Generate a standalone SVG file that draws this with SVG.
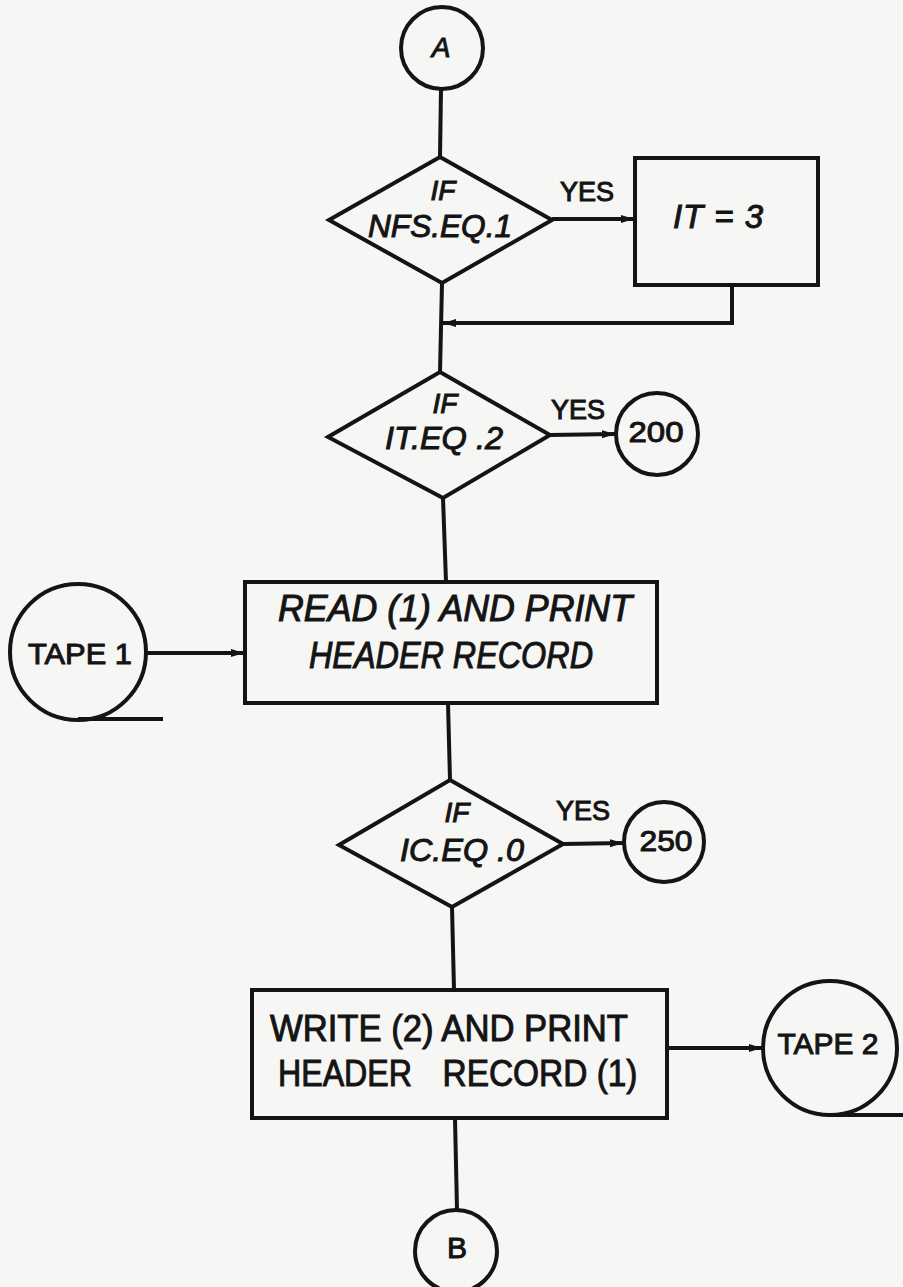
<svg xmlns="http://www.w3.org/2000/svg" width="903" height="1287" viewBox="0 0 903 1287">
<defs>
<style>
.sh{fill:none;stroke:#141414;stroke-width:4;stroke-linejoin:miter}
.ln{fill:none;stroke:#141414;stroke-width:4}
.t{font-family:"Liberation Sans",Arial,sans-serif;fill:#141414;stroke:#141414;stroke-width:1;text-anchor:middle}
.it{font-style:italic}
</style>
<marker id="ah" markerUnits="userSpaceOnUse" markerWidth="14" markerHeight="10" refX="13" refY="5" orient="auto">
<path d="M0,1 L13,5 L0,9 z" fill="#141414"/>
</marker>
</defs>
<rect width="903" height="1287" fill="#f6f6f4"/>
<g id="connectors">
<line class="ln" x1="441" y1="89" x2="440" y2="157"/>
<line class="ln" x1="552" y1="219" x2="634" y2="219" marker-end="url(#ah)"/>
<polyline class="ln" points="732,285 732,323 443,323" marker-end="url(#ah)"/>
<line class="ln" x1="442" y1="283" x2="440" y2="372"/>
<line class="ln" x1="550" y1="435" x2="615" y2="434" marker-end="url(#ah)"/>
<line class="ln" x1="443" y1="498" x2="446" y2="582"/>
<line class="ln" x1="146" y1="653" x2="244" y2="653" marker-end="url(#ah)"/>
<line class="ln" x1="448" y1="703" x2="450" y2="780"/>
<line class="ln" x1="563" y1="844" x2="623" y2="843" marker-end="url(#ah)"/>
<line class="ln" x1="452" y1="907" x2="454" y2="990"/>
<line class="ln" x1="667" y1="1048" x2="762" y2="1048" marker-end="url(#ah)"/>
<line class="ln" x1="455" y1="1118" x2="457" y2="1210"/>
</g>
<g id="nodeA">
<circle class="sh" cx="442" cy="48" r="41"/>
<text class="t it" x="441" y="57" font-size="28">A</text>
</g>
<g id="decision1">
<polygon class="sh" points="440,157 552,220 442,283 329,220"/>
<text class="t it" x="443" y="200" font-size="28">IF</text>
<text class="t it" x="440" y="237" font-size="32" textLength="144" lengthAdjust="spacingAndGlyphs">NFS.EQ.1</text>
<text class="t" x="587" y="201" font-size="27">YES</text>
</g>
<g id="assignIT3">
<rect class="sh" x="635" y="158" width="183" height="127"/>
<text class="t it" x="718" y="228" font-size="33" textLength="90" lengthAdjust="spacing">IT = 3</text>
</g>
<g id="decision2">
<polygon class="sh" points="440,372 550,435 443,498 328,437"/>
<text class="t it" x="445" y="413" font-size="28">IF</text>
<text class="t it" x="444" y="449" font-size="32" textLength="118" lengthAdjust="spacingAndGlyphs">IT.EQ .2</text>
<text class="t" x="578" y="419" font-size="27">YES</text>
</g>
<g id="node200">
<circle class="sh" cx="657" cy="434" r="41"/>
<text class="t" x="656" y="442" font-size="30" textLength="55" lengthAdjust="spacingAndGlyphs">200</text>
</g>
<g id="tape1">
<circle class="sh" cx="78" cy="652" r="68"/>
<line class="ln" x1="78" y1="719" x2="163" y2="719"/>
<text class="t" x="80" y="664" font-size="30" textLength="104" lengthAdjust="spacingAndGlyphs">TAPE 1</text>
</g>
<g id="readHeader">
<rect class="sh" x="245" y="582" width="412" height="121"/>
<text class="t it" x="455" y="621" font-size="36" textLength="354" lengthAdjust="spacingAndGlyphs">READ (1) AND PRINT</text>
<text class="t it" x="451" y="668" font-size="36" textLength="284" lengthAdjust="spacingAndGlyphs">HEADER RECORD</text>
</g>
<g id="decision3">
<polygon class="sh" points="450,780 563,844 452,907 339,845"/>
<text class="t it" x="457" y="822" font-size="28">IF</text>
<text class="t it" x="462" y="861" font-size="32" textLength="124" lengthAdjust="spacingAndGlyphs">IC.EQ .0</text>
<text class="t" x="583" y="820" font-size="27">YES</text>
</g>
<g id="node250">
<circle class="sh" cx="664" cy="842" r="40"/>
<text class="t" x="666" y="851" font-size="30" textLength="53" lengthAdjust="spacingAndGlyphs">250</text>
</g>
<g id="writeHeader">
<rect class="sh" x="252" y="990" width="415" height="128"/>
<text class="t" x="449" y="1041" font-size="37" textLength="358" lengthAdjust="spacingAndGlyphs">WRITE (2) AND PRINT</text>
<text class="t" y="1086" font-size="37"><tspan x="345" textLength="134" lengthAdjust="spacingAndGlyphs">HEADER</tspan><tspan x="540" textLength="195" lengthAdjust="spacingAndGlyphs">RECORD (1)</tspan></text>
</g>
<g id="tape2">
<circle class="sh" cx="830" cy="1048" r="67"/>
<line class="ln" x1="830" y1="1115" x2="903" y2="1115"/>
<text class="t" x="828" y="1054" font-size="30" textLength="101" lengthAdjust="spacingAndGlyphs">TAPE 2</text>
</g>
<g id="nodeB">
<circle class="sh" cx="456" cy="1251" r="41"/>
<text class="t" x="457" y="1258" font-size="30">B</text>
</g>
</svg>
